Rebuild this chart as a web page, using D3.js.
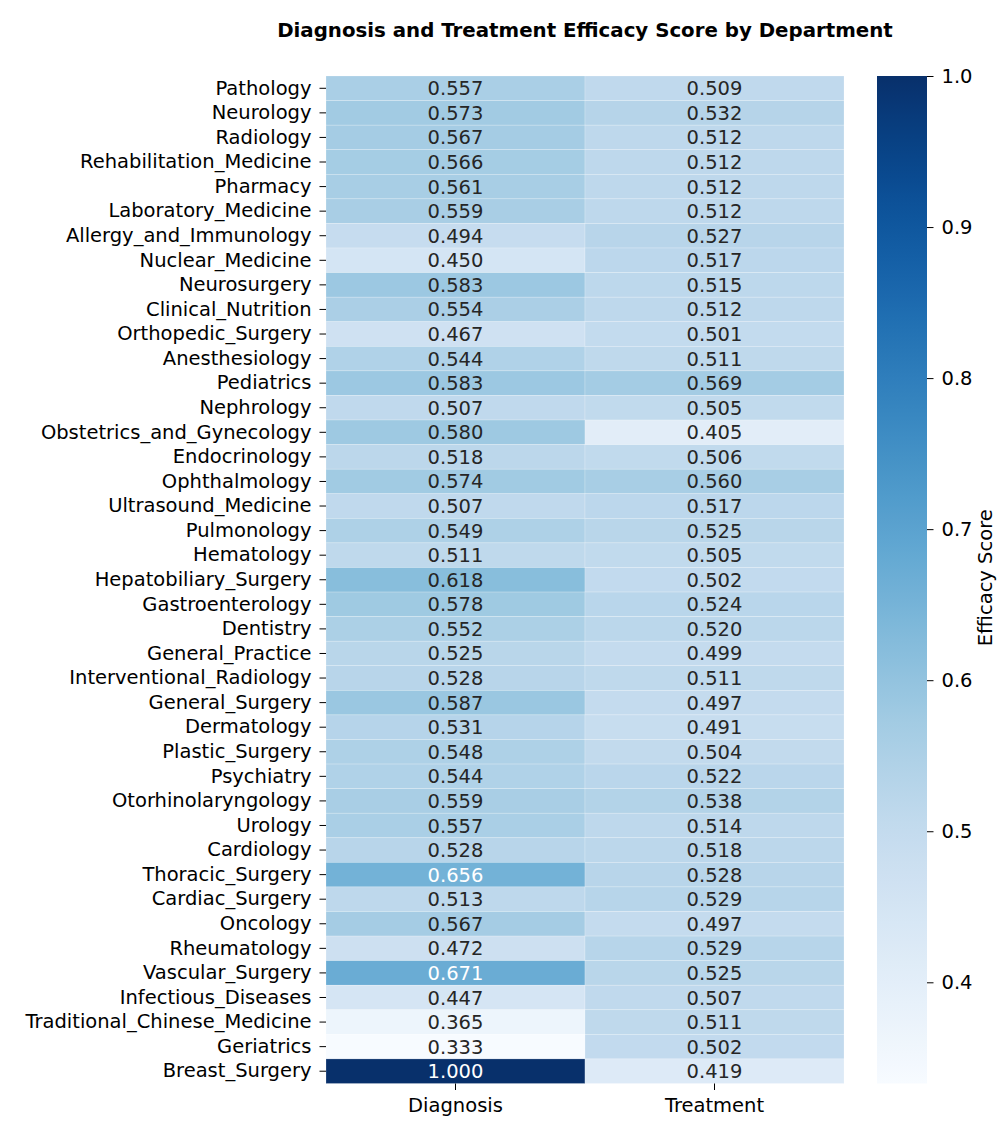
<!DOCTYPE html>
<html>
<head>
<meta charset="utf-8">
<script src="https://cdn.jsdelivr.net/npm/d3@7"></script>
<style>
    body { margin: 0; background: #fff; }
    svg, svg text { font-family: 'DejaVu Sans', sans-serif; }
</style>
</head>
<body>
<svg id="chart" width="997" height="1139"></svg>
<script>
// departments, top to bottom
const DEPARTMENTS = [
    'Pathology', 'Neurology', 'Radiology', 'Rehabilitation_Medicine', 'Pharmacy',
    'Laboratory_Medicine', 'Allergy_and_Immunology', 'Nuclear_Medicine', 'Neurosurgery',
    'Clinical_Nutrition', 'Orthopedic_Surgery', 'Anesthesiology', 'Pediatrics', 'Nephrology',
    'Obstetrics_and_Gynecology', 'Endocrinology', 'Ophthalmology', 'Ultrasound_Medicine',
    'Pulmonology', 'Hematology', 'Hepatobiliary_Surgery', 'Gastroenterology', 'Dentistry',
    'General_Practice', 'Interventional_Radiology', 'General_Surgery', 'Dermatology',
    'Plastic_Surgery', 'Psychiatry', 'Otorhinolaryngology', 'Urology', 'Cardiology',
    'Thoracic_Surgery', 'Cardiac_Surgery', 'Oncology', 'Rheumatology', 'Vascular_Surgery',
    'Infectious_Diseases', 'Traditional_Chinese_Medicine', 'Geriatrics', 'Breast_Surgery'
];

// columns
const METRICS = ['Diagnosis', 'Treatment'];

// diagnosis scores
const DIAGNOSIS = [
    0.557, 0.573, 0.567, 0.566, 0.561, 0.559, 0.494, 0.450, 0.583, 0.554,
    0.467, 0.544, 0.583, 0.507, 0.580, 0.518, 0.574, 0.507, 0.549, 0.511,
    0.618, 0.578, 0.552, 0.525, 0.528, 0.587, 0.531, 0.548, 0.544, 0.559,
    0.557, 0.528, 0.656, 0.513, 0.567, 0.472, 0.671, 0.447, 0.365, 0.333,
    1.000
];

// treatment scores
const TREATMENT = [
    0.509, 0.532, 0.512, 0.512, 0.512, 0.512, 0.527, 0.517, 0.515, 0.512,
    0.501, 0.511, 0.569, 0.505, 0.405, 0.506, 0.560, 0.517, 0.525, 0.505,
    0.502, 0.524, 0.520, 0.499, 0.511, 0.497, 0.491, 0.504, 0.522, 0.538,
    0.514, 0.518, 0.528, 0.529, 0.497, 0.529, 0.525, 0.507, 0.511, 0.502,
    0.419
];

// colorbar ticks
const CBAR_TICKS = [0.4, 0.5, 0.6, 0.7, 0.8, 0.9, 1.0];

const TITLE = 'Diagnosis and Treatment Efficacy Score by Department';
const CBAR_LABEL = 'Efficacy Score';

// plot area
const LEFT = 326, RIGHT = 844, TOP = 76, BOTTOM = 1083.5;
const CBAR_X = 877, CBAR_W = 50;
const FONT = '19.5px';
const TICK = 6.5, PAD = 8;

const SVG = d3.select('#chart');

// cells as {dep, metric, value}
const CELLS = [];
DEPARTMENTS.forEach((dep, i) => {
    CELLS.push({ dep: dep, metric: METRICS[0], value: DIAGNOSIS[i] });
    CELLS.push({ dep: dep, metric: METRICS[1], value: TREATMENT[i] });
});

const ALL_VALUES = DIAGNOSIS.concat(TREATMENT);
const V_MIN = d3.min(ALL_VALUES), V_MAX = d3.max(ALL_VALUES);

// scales
const X_SCALE = d3.scaleBand().domain(METRICS).range([LEFT, RIGHT]);
const Y_SCALE = d3.scaleBand().domain(DEPARTMENTS).range([TOP, BOTTOM]);
const COLOR_SCALE = d3.scaleSequential(d3.interpolateBlues).domain([V_MIN, V_MAX]);

// seaborn-like text colour pick
function textColor_helper(fill) {
    const c = d3.rgb(fill);
    const lin = v => {
        v = v / 255;
        return v <= 0.03928 ? v / 12.92 : Math.pow((v + 0.055) / 1.055, 2.4);
    };
    const lum = 0.2126 * lin(c.r) + 0.7152 * lin(c.g) + 0.0722 * lin(c.b);
    return lum > 0.408 ? '#262626' : '#ffffff';
}

// axis cleanup helper
function axisStyle_helper(group) {
    group.attr('font-family', null).attr('font-size', null);
    group.select('.domain').remove();
    group.selectAll('line').style('stroke', '#000').style('stroke-width', 1);
    group.selectAll('text').style('font-size', FONT).style('fill', '#000');
}

// cells
SVG.append('g')
    .selectAll('rect')
    .data(CELLS)
    .join('rect')
    .attr('x', d => X_SCALE(d.metric))
    .attr('y', d => Y_SCALE(d.dep))
    .attr('width', X_SCALE.bandwidth())
    .attr('height', Y_SCALE.bandwidth())
    .style('fill', d => COLOR_SCALE(d.value))
    .style('stroke', 'rgba(255,255,255,0.35)')
    .style('stroke-width', 0.6);

// annotations
SVG.append('g')
    .selectAll('text')
    .data(CELLS)
    .join('text')
    .attr('x', d => X_SCALE(d.metric) + X_SCALE.bandwidth() / 2)
    .attr('y', d => Y_SCALE(d.dep) + Y_SCALE.bandwidth() / 2)
    .attr('text-anchor', 'middle')
    .attr('dy', '0.36em')
    .style('font-size', FONT)
    .style('fill', d => textColor_helper(COLOR_SCALE(d.value)))
    .text(d => d3.format('.3f')(d.value));

// y axis
const Y_AXIS_G = SVG.append('g').attr('transform', `translate(${LEFT}, 0)`)
    .call(d3.axisLeft(Y_SCALE).tickSize(TICK).tickPadding(PAD));
axisStyle_helper(Y_AXIS_G);

// x axis
const X_AXIS_G = SVG.append('g').attr('transform', `translate(0, ${BOTTOM})`)
    .call(d3.axisBottom(X_SCALE).tickSize(TICK).tickPadding(PAD));
axisStyle_helper(X_AXIS_G);

// colorbar gradient
const DEFS = SVG.append('defs');
const GRAD = DEFS.append('linearGradient')
    .attr('id', 'cbarGrad')
    .attr('x1', 0).attr('y1', 1).attr('x2', 0).attr('y2', 0);
GRAD.selectAll('stop')
    .data(d3.range(0, 1.0001, 0.02))
    .join('stop')
    .attr('offset', d => d)
    .attr('stop-color', d => d3.interpolateBlues(d));

const CBAR_SCALE = d3.scaleLinear().domain([V_MIN, V_MAX]).range([BOTTOM, TOP]);

SVG.append('rect')
    .attr('x', CBAR_X)
    .attr('y', TOP)
    .attr('width', CBAR_W)
    .attr('height', BOTTOM - TOP)
    .style('fill', 'url(#cbarGrad)');

const CBAR_AXIS_G = SVG.append('g').attr('transform', `translate(${CBAR_X + CBAR_W}, 0)`)
    .call(d3.axisRight(CBAR_SCALE).tickValues(CBAR_TICKS).tickFormat(d3.format('.1f'))
        .tickSize(TICK).tickPadding(PAD));
axisStyle_helper(CBAR_AXIS_G);

// colorbar label, kept just inside the right edge
SVG.append('text')
    .attr('transform', `translate(991.5, ${(TOP + BOTTOM) / 2 - 2}) rotate(-90)`)
    .attr('text-anchor', 'middle')
    .style('font-size', FONT)
    .text(CBAR_LABEL);

// title
SVG.append('text')
    .attr('x', (LEFT + RIGHT) / 2)
    .attr('y', 37)
    .attr('text-anchor', 'middle')
    .style('font-size', '19.8px')
    .style('font-weight', 'bold')
    .text(TITLE);
</script>
</body>
</html>
